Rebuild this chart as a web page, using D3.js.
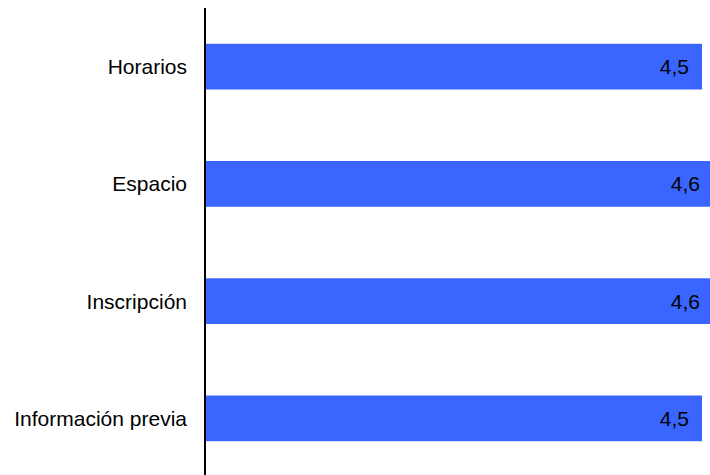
<!DOCTYPE html>
<html>
<head>
<meta charset="utf-8">
<script src="https://cdn.jsdelivr.net/npm/d3@7/dist/d3.min.js"></script>
<style>
html,body{margin:0;padding:0;background:#fff;}
svg{display:block;}
</style>
</head>
<body>
<svg id="chart" width="710" height="475"></svg>
<script>
const categories = ["Horarios", "Espacio", "Inscripción", "Información previa"];
const values = [4.5, 4.6, 4.6, 4.5];
const valueLabels = ["4,5", "4,6", "4,6", "4,5"];

const svg = d3.select("#chart");
const x0 = 205;
const x = d3.scaleLinear().domain([0, 4.5]).range([x0 + 1, 702]);
const y = d3.scaleBand().domain(categories).range([8, 477]).paddingInner(0.61).paddingOuter(0.305);

const font = "'Liberation Sans', Arial, Helvetica, sans-serif";

svg.selectAll("rect.bar").data(categories).enter().append("rect")
  .attr("class", "bar")
  .attr("x", x(0))
  .attr("y", d => y(d))
  .attr("width", (d, i) => x(values[i]) - x(0))
  .attr("height", y.bandwidth())
  .attr("fill", "#3a66ff");

svg.selectAll("text.val").data(categories).enter().append("text")
  .attr("class", "val")
  .attr("x", (d, i) => x(values[i]) - 13)
  .attr("y", d => y(d) + y.bandwidth() / 2)
  .attr("dy", "0.36em")
  .attr("text-anchor", "end")
  .attr("font-family", font)
  .attr("font-size", 21)
  .attr("fill", "#000")
  .text((d, i) => valueLabels[i]);

const axis = d3.axisLeft(y).tickSize(0).tickPadding(18);
const g = svg.append("g").attr("transform", `translate(${x0},0)`).call(axis);
g.select(".domain").remove();
g.selectAll("text").attr("font-family", font).attr("font-size", 21).attr("fill", "#000").attr("dy", "0.36em");

svg.append("line")
  .attr("x1", x0).attr("x2", x0)
  .attr("y1", 8).attr("y2", 475)
  .attr("stroke", "#000").attr("stroke-width", 2);
</script>
</body>
</html>
